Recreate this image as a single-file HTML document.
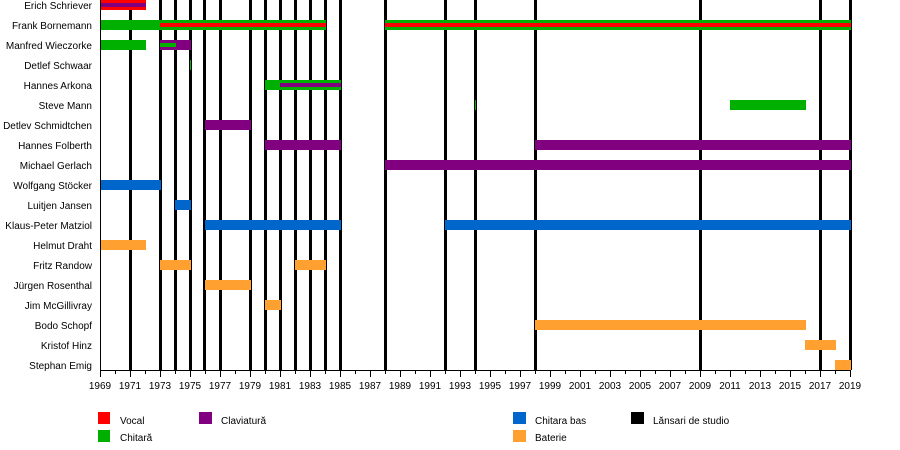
<!DOCTYPE html>
<html><head><meta charset="utf-8"><style>body{margin:0;background:#fff}svg{display:block}text{font-family:"Liberation Sans",Arial,sans-serif;font-size:10px;fill:#000}</style></head><body>
<svg width="900" height="450" xmlns="http://www.w3.org/2000/svg">
<g fill="#000">
<rect x="129" y="0" width="3" height="370"/><rect x="159" y="0" width="3" height="370"/><rect x="174" y="0" width="3" height="370"/><rect x="189" y="0" width="3" height="370"/><rect x="203" y="0" width="3" height="370"/><rect x="219" y="0" width="3" height="370"/><rect x="249" y="0" width="3" height="370"/><rect x="264" y="0" width="3" height="370"/><rect x="279" y="0" width="3" height="370"/><rect x="294" y="0" width="3" height="370"/><rect x="309" y="0" width="3" height="370"/><rect x="324" y="0" width="3" height="370"/><rect x="339" y="0" width="3" height="370"/><rect x="384" y="0" width="3" height="370"/><rect x="444" y="0" width="3" height="370"/><rect x="474" y="0" width="3" height="370"/><rect x="534" y="0" width="3" height="370"/><rect x="699" y="0" width="3" height="370"/><rect x="819" y="0" width="3" height="370"/><rect x="849" y="0" width="3" height="370"/>
</g>
<rect x="100" y="0" width="46" height="10" fill="#ff0000"/><rect x="100" y="3" width="46" height="4" fill="#800080"/>
<rect x="100" y="20" width="226" height="10" fill="#00b000"/><rect x="160" y="23" width="166" height="4" fill="#ff0000"/>
<rect x="385" y="20" width="466" height="10" fill="#00b000"/><rect x="385" y="23" width="466" height="4" fill="#ff0000"/>
<rect x="100" y="40" width="46" height="10" fill="#00b000"/><rect x="160" y="40" width="31" height="10" fill="#800080"/><rect x="160" y="43" width="16" height="4" fill="#00b000"/>
<rect x="190" y="60" width="1" height="10" fill="#00b000"/>
<rect x="265" y="80" width="76" height="10" fill="#00b000"/><rect x="280" y="83" width="61" height="4" fill="#800080"/>
<rect x="475" y="100" width="1" height="10" fill="#00b000"/><rect x="730" y="100" width="76" height="10" fill="#00b000"/>
<g fill="#800080"><rect x="205" y="120" width="46" height="10"/><rect x="265" y="140" width="76" height="10"/><rect x="535" y="140" width="316" height="10"/><rect x="385" y="160" width="466" height="10"/></g>
<g fill="#0066cc"><rect x="100" y="180" width="61" height="10"/><rect x="175" y="200" width="16" height="10"/><rect x="205" y="220" width="136" height="10"/><rect x="445" y="220" width="406" height="10"/></g>
<g fill="#ffa030"><rect x="100" y="240" width="46" height="10"/><rect x="160" y="260" width="31" height="10"/><rect x="295" y="260" width="31" height="10"/><rect x="205" y="280" width="46" height="10"/><rect x="265" y="300" width="16" height="10"/><rect x="535" y="320" width="271" height="10"/><rect x="805" y="340" width="31" height="10"/><rect x="835" y="360" width="16" height="10"/></g>
<rect x="100" y="0" width="1" height="371" fill="#000"/><rect x="100" y="370" width="751" height="1" fill="#000"/>
<path stroke="#000" stroke-width="1" d="M100.5 371v6M115.5 371v3M130.5 371v6M145.5 371v3M160.5 371v6M175.5 371v3M190.5 371v6M205.5 371v3M220.5 371v6M235.5 371v3M250.5 371v6M265.5 371v3M280.5 371v6M295.5 371v3M310.5 371v6M325.5 371v3M340.5 371v6M355.5 371v3M370.5 371v6M385.5 371v3M400.5 371v6M415.5 371v3M430.5 371v6M445.5 371v3M460.5 371v6M475.5 371v3M490.5 371v6M505.5 371v3M520.5 371v6M535.5 371v3M550.5 371v6M565.5 371v3M580.5 371v6M595.5 371v3M610.5 371v6M625.5 371v3M640.5 371v6M655.5 371v3M670.5 371v6M685.5 371v3M700.5 371v6M715.5 371v3M730.5 371v6M745.5 371v3M760.5 371v6M775.5 371v3M790.5 371v6M805.5 371v3M820.5 371v6M835.5 371v3M850.5 371v6"/>
<g text-anchor="end">
<text x="92" y="9">Erich Schriever</text><text x="92" y="29">Frank Bornemann</text><text x="92" y="49">Manfred Wieczorke</text><text x="92" y="69">Detlef Schwaar</text><text x="92" y="89">Hannes Arkona</text><text x="92" y="109">Steve Mann</text><text x="92" y="129">Detlev Schmidtchen</text><text x="92" y="149">Hannes Folberth</text><text x="92" y="169">Michael Gerlach</text><text x="92" y="189">Wolfgang Stöcker</text><text x="92" y="209">Luitjen Jansen</text><text x="92" y="229">Klaus-Peter Matziol</text><text x="92" y="249">Helmut Draht</text><text x="92" y="269">Fritz Randow</text><text x="92" y="289">Jürgen Rosenthal</text><text x="92" y="309">Jim McGillivray</text><text x="92" y="329">Bodo Schopf</text><text x="92" y="349">Kristof Hinz</text><text x="92" y="369">Stephan Emig</text>
</g>
<g text-anchor="middle">
<text x="100" y="389">1969</text><text x="130" y="389">1971</text><text x="160" y="389">1973</text><text x="190" y="389">1975</text><text x="220" y="389">1977</text><text x="250" y="389">1979</text><text x="280" y="389">1981</text><text x="310" y="389">1983</text><text x="340" y="389">1985</text><text x="370" y="389">1987</text><text x="400" y="389">1989</text><text x="430" y="389">1991</text><text x="460" y="389">1993</text><text x="490" y="389">1995</text><text x="520" y="389">1997</text><text x="550" y="389">1999</text><text x="580" y="389">2001</text><text x="610" y="389">2003</text><text x="640" y="389">2005</text><text x="670" y="389">2007</text><text x="700" y="389">2009</text><text x="730" y="389">2011</text><text x="760" y="389">2013</text><text x="790" y="389">2015</text><text x="820" y="389">2017</text><text x="850" y="389">2019</text>
</g>
<rect x="98" y="412" width="12" height="12" fill="#ff0000"/><text x="120" y="424">Vocal</text>
<rect x="98" y="430" width="12" height="12" fill="#00b000"/><text x="120" y="441">Chitară</text>
<rect x="199" y="412" width="13" height="12" fill="#800080"/><text x="221" y="424">Claviatură</text>
<rect x="513" y="412" width="13" height="12" fill="#0066cc"/><text x="535" y="424">Chitara bas</text>
<rect x="513" y="430" width="13" height="12" fill="#ffa030"/><text x="535" y="441">Baterie</text>
<rect x="631" y="412" width="13" height="12" fill="#000"/><text x="653" y="424">Lănsari de studio</text>
</svg>
</body></html>
